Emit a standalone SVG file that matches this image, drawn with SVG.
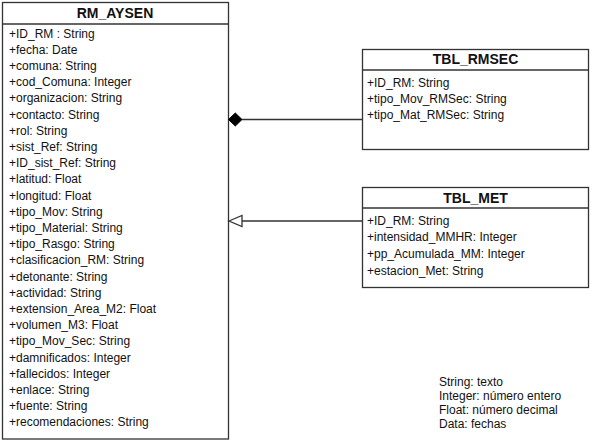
<svg xmlns="http://www.w3.org/2000/svg" width="596" height="443" viewBox="0 0 596 443">
<style>
.box{fill:#fff;stroke:#333;stroke-width:1.3}
.hd{font-family:"Liberation Sans",Arial,sans-serif;font-size:14px;font-weight:bold;fill:#111;text-anchor:middle}
.at{font-family:"Liberation Sans",Arial,sans-serif;font-size:12px;fill:#111}
.ln{stroke:#333;stroke-width:1.3;fill:none}
</style>
<rect width="596" height="443" fill="#fff"/>
<g id="RM_AYSEN">
<rect class="box" x="2.5" y="2.5" width="226" height="436.5"/>
<line class="ln" x1="2.5" y1="24" x2="228.5" y2="24"/>
<text class="hd" x="115" y="18">RM_AYSEN</text>
<text class="at" x="9">
<tspan x="9" y="37.5">+ID_RM : String</tspan>
<tspan x="9" y="53.7">+fecha: Date</tspan>
<tspan x="9" y="69.9">+comuna: String</tspan>
<tspan x="9" y="86.1">+cod_Comuna: Integer</tspan>
<tspan x="9" y="102.3">+organizacion: String</tspan>
<tspan x="9" y="118.5">+contacto: String</tspan>
<tspan x="9" y="134.7">+rol: String</tspan>
<tspan x="9" y="150.9">+sist_Ref: String</tspan>
<tspan x="9" y="167.1">+ID_sist_Ref: String</tspan>
<tspan x="9" y="183.3">+latitud: Float</tspan>
<tspan x="9" y="199.5">+longitud: Float</tspan>
<tspan x="9" y="215.7">+tipo_Mov: String</tspan>
<tspan x="9" y="231.9">+tipo_Material: String</tspan>
<tspan x="9" y="248.1">+tipo_Rasgo: String</tspan>
<tspan x="9" y="264.3">+clasificacion_RM: String</tspan>
<tspan x="9" y="280.5">+detonante: String</tspan>
<tspan x="9" y="296.7">+actividad: String</tspan>
<tspan x="9" y="312.9">+extension_Area_M2: Float</tspan>
<tspan x="9" y="329.1">+volumen_M3: Float</tspan>
<tspan x="9" y="345.3">+tipo_Mov_Sec: String</tspan>
<tspan x="9" y="361.5">+damnificados: Integer</tspan>
<tspan x="9" y="377.7">+fallecidos: Integer</tspan>
<tspan x="9" y="393.9">+enlace: String</tspan>
<tspan x="9" y="410.1">+fuente: String</tspan>
<tspan x="9" y="426.3">+recomendaciones: String</tspan>
</text>
</g>
<g id="TBL_RMSEC">
<rect class="box" x="362.5" y="49.5" width="226" height="100"/>
<line class="ln" x1="362.5" y1="70" x2="588.5" y2="70"/>
<text class="hd" x="475.5" y="64">TBL_RMSEC</text>
<text class="at">
<tspan x="367" y="86.5">+ID_RM: String</tspan>
<tspan x="367" y="102.5">+tipo_Mov_RMSec: String</tspan>
<tspan x="367" y="118.5">+tipo_Mat_RMSec: String</tspan>
</text>
</g>
<g id="TBL_MET">
<rect class="box" x="362.5" y="187.5" width="226" height="100"/>
<line class="ln" x1="362.5" y1="208" x2="588.5" y2="208"/>
<text class="hd" x="475.5" y="203">TBL_MET</text>
<text class="at">
<tspan x="367" y="224.5">+ID_RM: String</tspan>
<tspan x="367" y="241.2">+intensidad_MMHR: Integer</tspan>
<tspan x="367" y="257.9">+pp_Acumulada_MM: Integer</tspan>
<tspan x="367" y="274.6">+estacion_Met: String</tspan>
</text>
</g>
<g id="connectors">
<line class="ln" x1="242" y1="119.5" x2="362.5" y2="119.5"/>
<polygon points="228.5,119.5 235.3,113 242,119.5 235.3,126" fill="#000" stroke="#000" stroke-width="1"/>
<line class="ln" x1="242" y1="221" x2="362.5" y2="221"/>
<polygon points="229,221 242,215.5 242,226.5" fill="#fff" stroke="#333" stroke-width="1.3"/>
</g>
<g id="legend">
<text class="at">
<tspan x="439" y="386">String: texto</tspan>
<tspan x="439" y="400">Integer: número entero</tspan>
<tspan x="439" y="414">Float: número decimal</tspan>
<tspan x="439" y="428">Data: fechas</tspan>
</text>
</g>
</svg>
